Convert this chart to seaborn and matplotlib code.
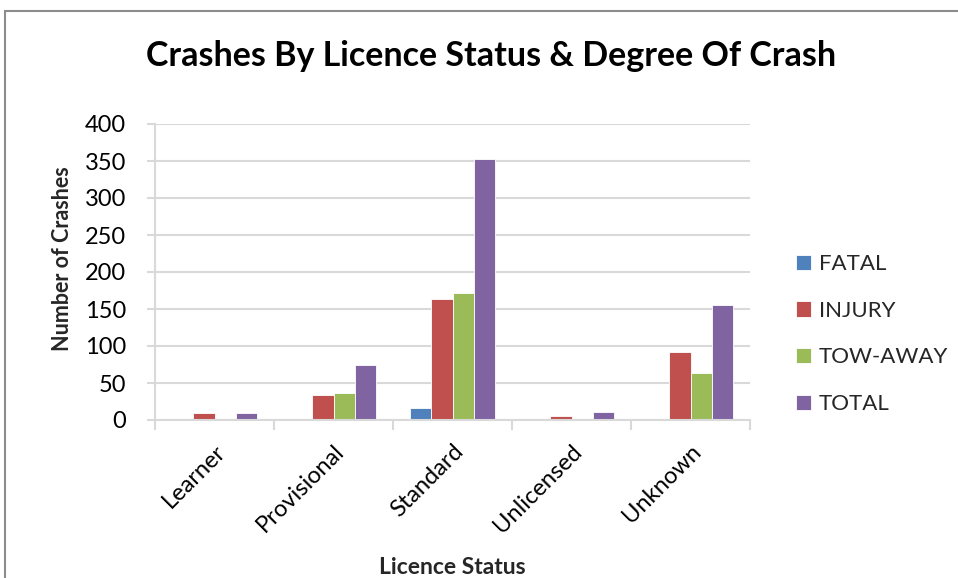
import matplotlib
matplotlib.use("Agg")
import matplotlib.pyplot as plt
from matplotlib.patches import Rectangle
from matplotlib.ticker import FixedLocator, NullFormatter
import seaborn as sns
import pandas as pd

# Crash counts per licence status and degree of crash
statuses = ["Learner", "Provisional", "Standard", "Unlicensed", "Unknown"]
degrees = ["FATAL", "INJURY", "TOW-AWAY", "TOTAL"]
fatal = [0, 2, 16, 1, 0]
injury = [9, 34, 163, 6, 92]
tow_away = [0, 37, 171, 2, 63]
total = [10, 74, 353, 11, 156]
y_ticks = [0, 50, 100, 150, 200, 250, 300, 350, 400]

colors = ["#4F81BD", "#C0504D", "#9BBB59", "#8064A2"]

rows = []
for deg, vals in zip(degrees, [fatal, injury, tow_away, total]):
    for st, v in zip(statuses, vals):
        rows.append({"Licence Status": st, "Degree": deg, "Crashes": v})
df = pd.DataFrame(rows)

sns.set_theme(style="white")
plt.rcParams["font.family"] = ["Lato", "DejaVu Sans"]

W, H = 958, 578
fig = plt.figure(figsize=(W / 100, H / 100), dpi=100)
ax = fig.add_axes([155 / W, 1 - 420 / H, (750 - 155) / W, (420 - 124) / H])

sns.barplot(data=df, x="Licence Status", y="Crashes", hue="Degree",
            order=statuses, hue_order=degrees, palette=colors,
            saturation=1, width=0.72, ax=ax, legend=True,
            edgecolor="white", linewidth=0.6)

ax.set_xlim(-0.5, len(statuses) - 0.5)
ax.set_ylim(0, 400)
ax.set_yticks(y_ticks)
ax.set_yticklabels([str(t) for t in y_ticks], fontsize=17, color="black")
ax.yaxis.grid(True, color="#D9D9D9", linewidth=1.5)
ax.set_axisbelow(True)

for side in ["top", "right"]:
    ax.spines[side].set_visible(False)
for side in ["left", "bottom"]:
    ax.spines[side].set_color("#D9D9D9")
    ax.spines[side].set_linewidth(1.5)

ax.tick_params(axis="y", which="major", length=6, width=1.5, color="#D9D9D9",
               left=True, pad=15)
ax.tick_params(axis="x", which="major", length=0, pad=15)
ax.xaxis.set_minor_locator(FixedLocator([i - 0.5 for i in range(len(statuses) + 1)]))
ax.xaxis.set_minor_formatter(NullFormatter())
ax.tick_params(axis="x", which="minor", length=7, width=1.5, color="#D9D9D9",
               bottom=True)

ax.set_xticks(range(len(statuses)))
ax.set_xticklabels(statuses, rotation=45, ha="right", rotation_mode="anchor",
                   fontsize=17, color="black")

ax.set_xlabel("Licence Status", fontsize=16.5, fontweight="bold")
ax.xaxis.set_label_coords(0.5, (420 - 557) / 296)
ax.set_ylabel("Number of Crashes", fontsize=15.5, fontweight="bold")
ax.yaxis.set_label_coords((73 - 155) / 595, (420 - 259) / 296)

fig.text(491 / W, 1 - 56 / H, "Crashes By Licence Status & Degree Of Crash",
         ha="center", va="center", fontsize=24.5, fontweight="bold", color="black")

handles, labels = ax.get_legend_handles_labels()
ax.legend(handles, labels, loc="center left", bbox_to_anchor=(787 / W, 1 - 334 / H),
          bbox_transform=fig.transFigure, frameon=False, fontsize=16,
          handlelength=0.68, handleheight=0.68, handletextpad=0.35,
          labelspacing=1.2, borderaxespad=0)

# Chart area frame
fig.patches.append(Rectangle((5 / W, -0.05), 1.1, 1 - 11 / H + 0.05,
                             transform=fig.transFigure, fill=False,
                             edgecolor="#8C8C8C", linewidth=1.5))

fig.savefig("out.png", dpi=100)
